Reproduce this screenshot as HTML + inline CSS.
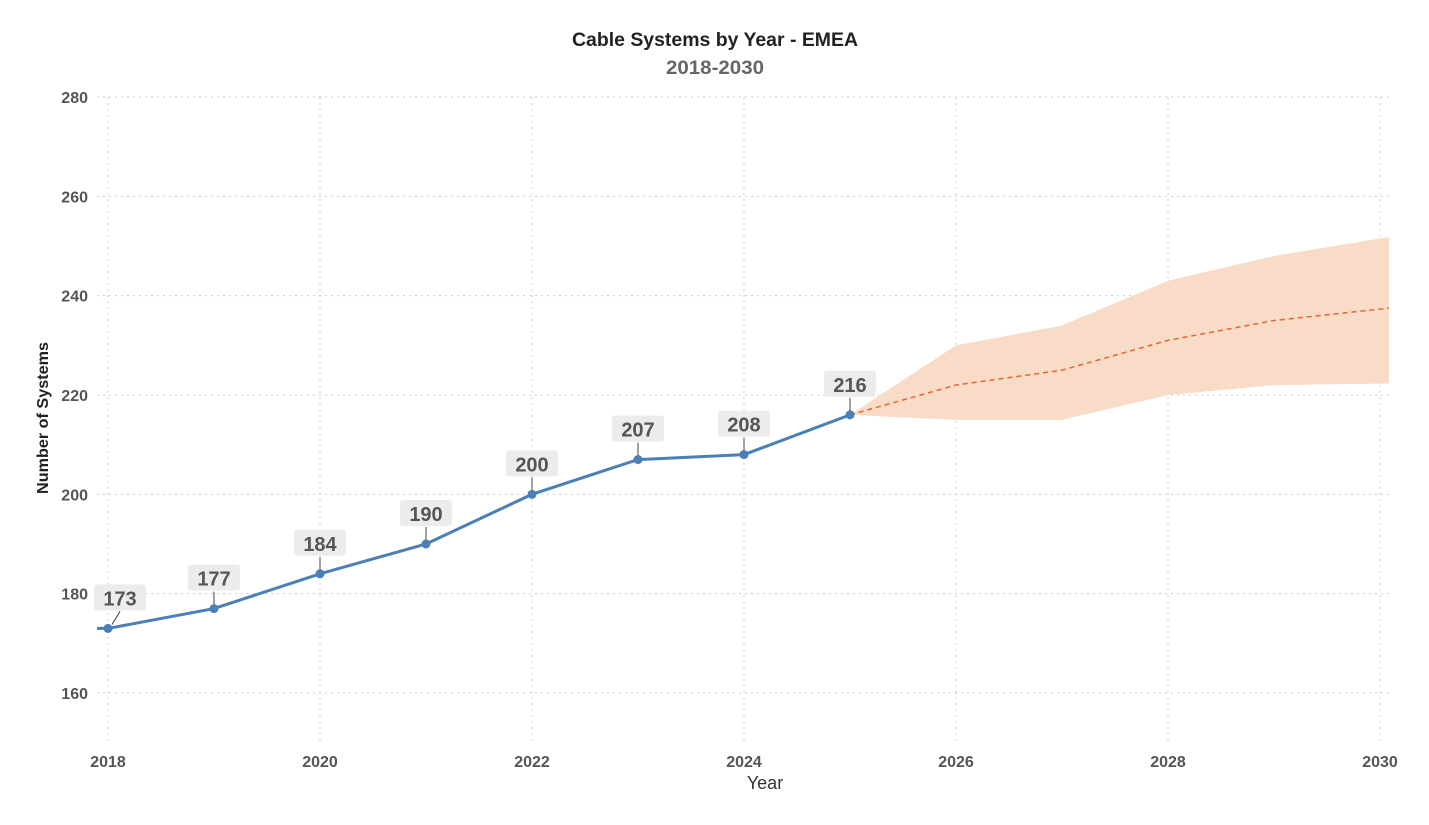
<!DOCTYPE html>
<html><head><meta charset="utf-8"><style>
html,body{margin:0;padding:0;background:#fff;}
svg{display:block;font-family:"Liberation Sans",sans-serif;}
</style></head><body>
<svg id="chart" width="1429" height="825">
<text x="715" y="46" text-anchor="middle" font-size="19" font-weight="bold" fill="#222" textLength="286" lengthAdjust="spacingAndGlyphs">Cable Systems by Year - EMEA</text>
<text x="715" y="74" text-anchor="middle" font-size="19" font-weight="bold" fill="#666" textLength="98" lengthAdjust="spacingAndGlyphs">2018-2030</text>
<text x="765" y="789" text-anchor="middle" font-size="18" fill="#333">Year</text>
<text transform="translate(48,418) rotate(-90)" text-anchor="middle" font-size="16" font-weight="bold" fill="#222" textLength="152" lengthAdjust="spacingAndGlyphs">Number of Systems</text>
<g id="grid"></g><g id="band"></g><g id="lines"></g><g id="labels"></g>
</svg>
<script>
const years=[2018,2019,2020,2021,2022,2023,2024,2025];
const values=[173,177,184,190,200,207,208,216];
const fcYears=[2025,2026,2027,2028,2029,2030];
const fcMid=[216,222,225,231,235,237.3];
const fcUpper=[216,230,234,243,248,251.5];
const fcLower=[216,215,215,220,222,222.3];
const yTicks=[160,180,200,220,240,260,280];
const xTicks=[2018,2020,2022,2024,2026,2028,2030];
const NS="http://www.w3.org/2000/svg";
const X=v=>108+(v-2018)*(1380-108)/12;
const Y=v=>693-(v-160)*(693-97)/120;
function mk(tag,attrs,parent,text){const e=document.createElementNS(NS,tag);for(const k in attrs)e.setAttribute(k,attrs[k]);if(text!==undefined)e.textContent=text;document.getElementById(parent).appendChild(e);return e;}
const ext=0.085;
yTicks.forEach(t=>{
 let l=mk('line',{x1:97,x2:1389,y1:Y(t),y2:Y(t),stroke:'#ccc','stroke-dasharray':'2,4','stroke-width':1},'grid');
 
 
 let tx=mk('text',{x:88,y:Y(t)+6,'text-anchor':'end','font-size':16,'font-weight':'bold',fill:'#555'},'grid',t);
 
 
});
xTicks.forEach(t=>{
 let l=mk('line',{x1:X(t),x2:X(t),y1:97,y2:745,stroke:'#ccc','stroke-dasharray':'2,4','stroke-width':1},'grid');
 
 
 let tx=mk('text',{x:X(t),y:767,'text-anchor':'middle','font-size':16,'font-weight':'bold',fill:'#555'},'grid',t);
 
 
});
// band
const n=fcYears.length;
const extY=(arr)=>arr[n-1]+(arr[n-1]-arr[n-2])*ext;
let pts=fcYears.map((y,i)=>X(y)+','+Y(fcUpper[i]));
pts.push(X(fcYears[n-1]+ext)+','+Y(extY(fcUpper)));
pts.push(X(fcYears[n-1]+ext)+','+Y(extY(fcLower)));
for(let i=n-1;i>=0;i--)pts.push(X(fcYears[i])+','+Y(fcLower[i]));
let band=mk('polygon',{points:pts.join(' '),fill:'#f9dcc8'},'band');


let mpts=fcYears.map((y,i)=>X(y)+','+Y(fcMid[i]));
mpts.push(X(fcYears[n-1]+ext)+','+Y(extY(fcMid)));
let fl=mk('polyline',{points:mpts.join(' '),fill:'none',stroke:'#e8622c','stroke-width':1.5,'stroke-dasharray':'5,4'},'lines');


let apts=[(X(2018)-11)+','+Y(values[0])].concat(years.map((y,i)=>X(y)+','+Y(values[i])));
let al=mk('polyline',{points:apts.join(' '),fill:'none',stroke:'#4a7fb8','stroke-width':3},'lines');


years.forEach((y,i)=>{
 const cx=X(y),cy=Y(values[i]);
 let c=mk('circle',{cx:cx,cy:cy,r:4.5,fill:'#4a7fb8'},'lines');
 
 
 const lx=i===0?cx+12:cx;
 let ln=mk('line',{x1:i===0?cx+4:cx,y1:cy-4,x2:lx,y2:cy-17,stroke:'#444','stroke-width':1},'labels');
 
 
 let r=mk('rect',{x:lx-26,y:cy-44,width:52,height:26,rx:3,fill:'#ececec'},'labels');
 
 
 let t=mk('text',{x:lx,y:cy-23,'text-anchor':'middle','font-size':20,'font-weight':'bold',fill:'#555'},'labels',values[i]);
 
 
});
</script>
</body></html>
